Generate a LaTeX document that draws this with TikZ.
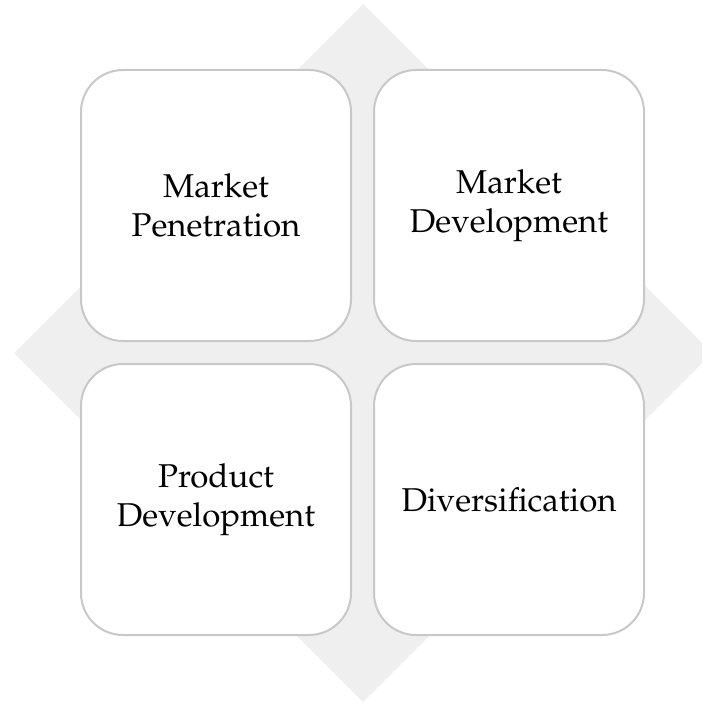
\documentclass[tikz,border=0pt]{standalone}
\usepackage[T1]{fontenc}
\usepackage{mathpazo}
\usetikzlibrary{positioning}

\definecolor{quadline}{HTML}{C8C8C8}
\definecolor{quadback}{HTML}{EFEFEF}

\tikzset{
	quad/.style={draw=quadline, line width=2, fill=white, rounded corners=42,
		minimum width=270, minimum height=271, inner sep=0},
	quadtext/.style={align=center, font=\fontsize{33}{39}\selectfont}
}

\begin{document}
\begin{tikzpicture}[x=1pt, y=-1pt]
	\useasboundingbox (0,0) rectangle (702,703);
	\clip (0,0) rectangle (702,703);
	% grey diamond behind the four boxes
	\fill[quadback] (363,4) -- (712,353) -- (363,702) -- (14,353) -- cycle;
	% the four boxes
	\node[quad] (mp) at (216,205.5) {};
	\node[quad] (md) at (509,205.5) {};
	\node[quad] (pd) at (216,499.5) {};
	\node[quad] (dv) at (509,499.5) {};
	\node[quadtext] (mptext) at (mp.center) {Market\\Penetration};
	\node[quadtext] (mdtext) at (md.center) {Market\\Development};
	\node[quadtext] (pdtext) at (pd.center) {Product\\Development};
	\node[quadtext] (dvtext) at (dv.center) {Diversification};
\end{tikzpicture}
\end{document}
